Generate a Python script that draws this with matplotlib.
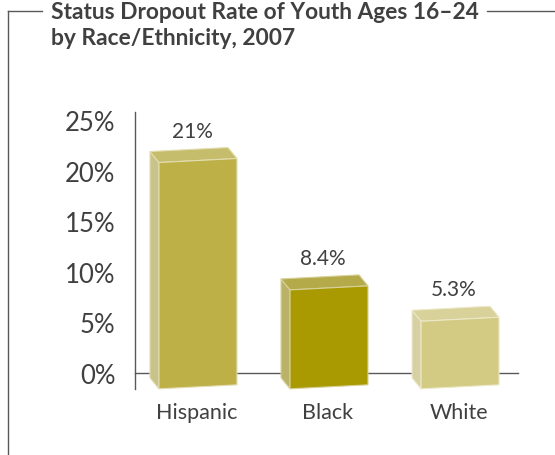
import matplotlib
matplotlib.use('Agg')
import matplotlib.pyplot as plt
from matplotlib.patches import Polygon
from matplotlib.lines import Line2D
from matplotlib.transforms import IdentityTransform

categories = ['Hispanic', 'Black', 'White']
rates = [21, 8.4, 5.3]
rate_labels = ['21%', '8.4%', '5.3%']
yticks = [0, 5, 10, 15, 20, 25]
ytick_labels = ['0%', '5%', '10%', '15%', '20%', '25%']

front_colors = ['#bcb047', '#a89a00', '#d3cb84']
side_colors = ['#c9c38a', '#bab268', '#d6d0a2']
top_colors = ['#c6bd6c', '#b4aa4a', '#d8d19a']
edge_colors = ['#e2ddb0', '#d8d19a', '#ece8c8']

text_color = '#404040'
plt.rcParams['font.family'] = ['Lato', 'DejaVu Sans']

W, H = 555, 456
fig = plt.figure(figsize=(W / 100, H / 100), dpi=100)
ax = fig.add_axes([135 / W, 66 / H, 383 / W, 277 / H])
ax.set_xlim(-0.473, 2.45)
ax.set_ylim(-1.6, 25.8)

for s in ['top', 'right']:
    ax.spines[s].set_visible(False)
ax.spines['bottom'].set_position(('data', 0))
for s in ['left', 'bottom']:
    ax.spines[s].set_color('#595959')
    ax.spines[s].set_linewidth(1.0)

ax.set_yticks(yticks)
ax.set_yticklabels(ytick_labels, fontsize=18.5, color=text_color)
ax.set_yticks([0], minor=True)
ax.tick_params(axis='y', which='major', length=0, pad=14)
ax.tick_params(axis='y', which='minor', length=6, width=1.0, color='#595959')
ax.set_xticks(range(len(categories)))
ax.set_xticklabels(categories, fontsize=15.5, color=text_color)
ax.tick_params(axis='x', length=0, pad=21)

# pseudo-3D boxes, front face with a slight tilt, depth pointing back-left
bar_w = 0.595
front_shift = 1
depth_x, depth_y = -9, 11
tilt = 4
drop = 14
ident = IdentityTransform()
for i, v in enumerate(rates):
    (x0, y0), (x1, y1) = ax.transData.transform([(i - bar_w / 2, 0), (i + bar_w / 2, v)])
    x0 += front_shift
    x1 += front_shift
    fbl = (x0, y0 - drop - tilt / 2)
    fbr = (x1, y0 - drop + tilt / 2)
    ftl = (x0, y1 - tilt / 2)
    ftr = (x1, y1 + tilt / 2)
    btl = (ftl[0] + depth_x, ftl[1] + depth_y)
    btr = (ftr[0] + depth_x, ftr[1] + depth_y)
    bbl = (fbl[0] + depth_x, fbl[1] + depth_y)
    side = Polygon([fbl, ftl, btl, bbl], closed=True, transform=ident,
                   facecolor=side_colors[i], edgecolor=edge_colors[i], lw=0.8,
                   zorder=3, clip_on=False)
    top = Polygon([ftl, ftr, btr, btl], closed=True, transform=ident,
                  facecolor=top_colors[i], edgecolor=edge_colors[i], lw=0.8,
                  zorder=3, clip_on=False)
    front = Polygon([fbl, fbr, ftr, ftl], closed=True, transform=ident,
                    facecolor=front_colors[i], edgecolor=edge_colors[i], lw=0.8,
                    zorder=4, clip_on=False)
    for p in (side, top, front):
        fig.add_artist(p)
    ax.annotate(rate_labels[i], xy=(i, v), xytext=(-5, 30), textcoords='offset pixels',
                ha='center', va='center', fontsize=15, color=text_color)

# frame around the chart, open where the title sits
frame = '#595959'
fig.add_artist(Line2D([8 / W, 8 / W], [0, 1 - 12 / H], color=frame, lw=1))
fig.add_artist(Line2D([8 / W, 42 / W], [1 - 12 / H, 1 - 12 / H], color=frame, lw=1))
fig.add_artist(Line2D([487 / W, 1], [1 - 12 / H, 1 - 12 / H], color=frame, lw=1))

fig.text(51 / W, 1 - 19 / H, 'Status Dropout Rate of Youth Ages 16\u201324',
         fontsize=16.4, fontweight='bold', color=text_color, va='baseline')
fig.text(51 / W, 1 - 45 / H, 'by Race/Ethnicity, 2007',
         fontsize=16.4, fontweight='bold', color=text_color, va='baseline')

fig.savefig('out.png', dpi=100)
